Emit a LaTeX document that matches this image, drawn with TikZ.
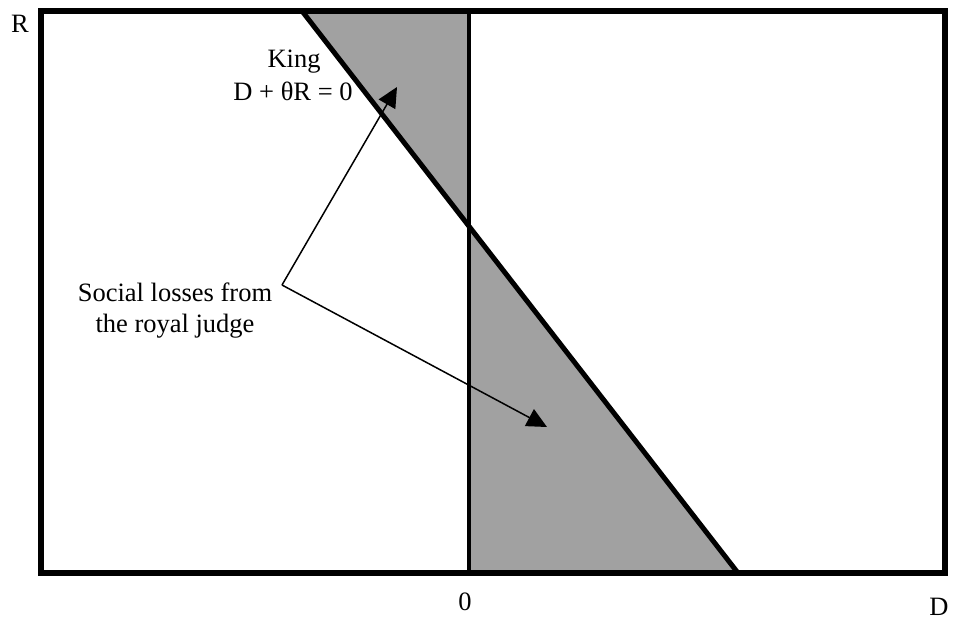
\documentclass[tikz,border=0pt]{standalone}
\usepackage{fontspec}
\setmainfont{Liberation Serif}
\usetikzlibrary{arrows.meta}
\begin{document}
\begin{tikzpicture}[x=1pt,y=-1pt,
  frame/.style={line width=5.5pt},
  axisline/.style={line width=4.5pt},
  kingline/.style={line width=5pt},
  loss/.style={fill=black!37},
  pointer/.style={line width=1.5pt,-{Triangle[length=20pt,width=19pt]}},
  lbl/.style={font=\fontsize{26.5}{31}\selectfont, inner sep=0pt, align=center}]
\useasboundingbox (0,0) rectangle (955,622);
% corners and key points
\coordinate (TL) at (41,11);
\coordinate (BR) at (945,573);
\coordinate (Ktop) at (302,11);
\coordinate (Kbot) at (738,573);
\coordinate (Vtop) at (469,11);
\coordinate (Vbot) at (469,573);
\coordinate (X) at (469,227);
% shaded loss regions
\fill[loss] (Ktop) -- (Vtop) -- (X) -- cycle;
\fill[loss] (X) -- (Vbot) -- (Kbot) -- cycle;
% lines
\draw[axisline] (Vtop) -- (Vbot);
\draw[kingline] (Ktop) -- (Kbot);
\draw[frame] (TL) rectangle (BR);
% labels
\node[lbl, anchor=base] (R) at (20,32) {R};
\node[lbl, anchor=base] (D) at (939,615) {D};
\node[lbl, anchor=base] (zero) at (465,610) {0};
\node[lbl, anchor=base] (king) at (294,67) {King};
\node[lbl, anchor=base] (eq) at (293,100) {D + θR = 0};
\node[lbl, anchor=base] (social1) at (175,301) {Social losses from};
\node[lbl, anchor=base] (social2) at (175,332) {the royal judge};
% pointers
\coordinate (tail) at (282,285);
\coordinate (tipA) at (397,87);
\coordinate (tipB) at (547,427);
\draw[pointer] (tail) -- (tipA);
\draw[pointer] (tail) -- (tipB);
\end{tikzpicture}
\end{document}
